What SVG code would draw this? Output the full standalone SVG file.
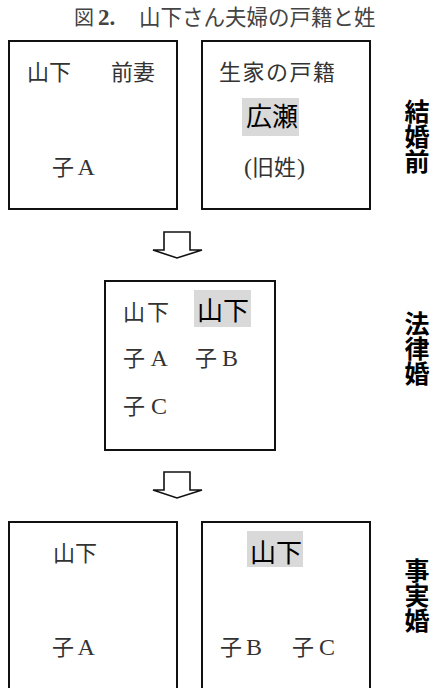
<svg xmlns="http://www.w3.org/2000/svg" width="441" height="688" viewBox="0 0 441 688">
<style>
.box{fill:#fff;stroke:#111;stroke-width:2}
.hl{fill:#d9d9d9}
.t{font-family:"Liberation Serif","Noto Sans CJK JP",serif;font-size:22px;fill:#333}
.lt{font-size:24px}
.big{font-family:"Noto Sans CJK JP",sans-serif;font-size:26px;fill:#000}
.side{font-family:"Noto Sans CJK JP",sans-serif;font-size:25px;font-weight:700;fill:#000;writing-mode:vertical-rl;text-orientation:upright}
.title{font-family:"Noto Sans CJK JP",sans-serif;font-size:21.5px;fill:#444}
.arrow{fill:#fff;stroke:#111;stroke-width:1.6;stroke-linejoin:miter}
</style>
<rect width="441" height="688" fill="#fff"/>
<g id="title">
<text class="title" y="25"><tspan x="74" font-size="20">図</tspan><tspan x="98" font-family="Liberation Serif" font-weight="700" font-size="23">2.</tspan><tspan x="139">山下さん夫婦の戸籍と姓</tspan></text>
</g>
<g id="connectors">
<polygon class="arrow" points="164,232 190,232 190,250 202,250 177,258 153,250 164,250"/>
<polygon class="arrow" points="164,472 190,472 190,490 202,490 177,498 153,490 164,490"/>
</g>
<g id="before-yamashita">
<rect class="box" x="9" y="41" width="168" height="168"/>
<text class="t" x="27" y="80">山下</text>
<text class="t" x="111" y="80">前妻</text>
<text class="t" y="175"><tspan x="52">子</tspan><tspan class="lt" x="77.5">A</tspan></text>
</g>
<g id="before-hirose">
<rect class="box" x="202" y="41" width="168" height="168"/>
<text class="t" x="219" y="80" letter-spacing="1.5">生家の戸籍</text>
<rect class="hl" x="242" y="98" width="57" height="38"/>
<text class="big" x="246" y="126">広瀬</text>
<text class="t" y="175"><tspan x="244" font-size="24">(</tspan><tspan x="252">旧姓</tspan><tspan x="297" font-size="24">)</tspan></text>
</g>
<g id="label-before">
<text class="side" x="417" y="99">結婚前</text>
</g>
<g id="legal">
<rect class="box" x="105" y="281" width="170" height="169"/>
<text class="t" x="123" y="320" letter-spacing="2">山下</text>
<rect class="hl" x="194" y="290" width="57" height="37"/>
<text class="big" x="197" y="320">山下</text>
<text class="t" y="366"><tspan x="123">子</tspan><tspan class="lt" x="150.5">A</tspan></text>
<text class="t" y="366"><tspan x="195">子</tspan><tspan class="lt" x="222">B</tspan></text>
<text class="t" y="414"><tspan x="123">子</tspan><tspan class="lt" x="151">C</tspan></text>
</g>
<g id="label-legal">
<text class="side" x="417" y="311">法律婚</text>
</g>
<g id="defacto-yamashita">
<rect class="box" x="9" y="522" width="168" height="200"/>
<text class="t" x="53" y="561">山下</text>
<text class="t" y="655"><tspan x="52">子</tspan><tspan class="lt" x="77.5">A</tspan></text>
</g>
<g id="defacto-partner">
<rect class="box" x="202" y="522" width="168" height="200"/>
<rect class="hl" x="247" y="531" width="56" height="36"/>
<text class="big" x="250" y="562">山下</text>
<text class="t" y="655"><tspan x="220">子</tspan><tspan class="lt" x="246">B</tspan></text>
<text class="t" y="655"><tspan x="292">子</tspan><tspan class="lt" x="319">C</tspan></text>
</g>
<g id="label-defacto">
<text class="side" x="417" y="558">事実婚</text>
</g>
</svg>
